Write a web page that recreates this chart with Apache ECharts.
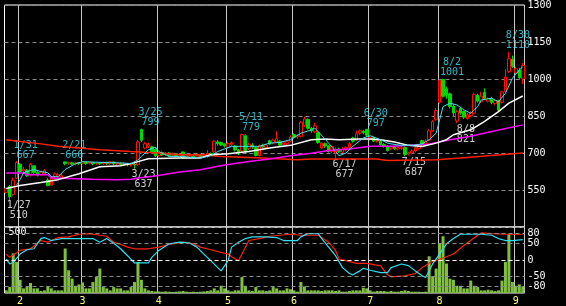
<!DOCTYPE html>
<html>
<head>
<meta charset="utf-8">
<script src="https://cdn.jsdelivr.net/npm/echarts@6/dist/echarts.min.js"></script>
<style>
html,body{margin:0;padding:0;background:#000;}
#main{width:566px;height:306px;}
</style>
</head>
<body>
<div id="main"></div>
<script>
// trading days, 2022-01-26 .. 2022-09-05
var monthDays = {
  1: [26,27,28,31],
  2: [1,2,3,4,7,8,9,10,14,15,16,17,18,21,22,24,25,28],
  3: [1,2,3,4,7,8,9,10,11,14,15,16,17,18,22,23,24,25,28,29,30,31],
  4: [1,4,5,6,7,8,11,12,13,14,15,18,19,20,21,22,25,26,27,28],
  5: [2,6,9,10,11,12,13,16,17,18,19,20,23,24,25,26,27,30,31],
  6: [1,2,3,6,7,8,9,10,13,14,15,16,17,20,21,22,23,24,27,28,29,30],
  7: [1,4,5,6,7,8,11,12,13,14,15,19,20,21,22,25,26,27,28,29],
  8: [1,2,3,4,5,8,9,10,12,15,16,17,18,19,22,23,24,25,26,29,30,31],
  9: [1,2,5]
};

var opens = [540,565,532,598,655,628,630,610,648,622,612,615,590,570,605,604,600,664,658,660,
  656,660,658,662,658,661,657,660,656,662,657,664,656,658,653,657,652,655,652,795,
  720,728,725,715,690,702,694,700,690,697,690,704,682,683,688,684,690,685,685,698,
  705,745,742,735,722,735,728,712,708,770,718,732,722,690,730,722,750,740,745,748,
  735,738,748,775,765,768,812,836,800,786,782,720,738,728,706,700,716,704,712,722,
  760,752,780,788,796,755,762,748,748,735,728,718,726,716,718,722,695,700,708,718,
  750,735,752,790,835,905,998,960,940,890,830,880,868,840,852,862,935,908,945,910,
  922,900,912,905,950,1030,1080,1025,1036,1000];
var closes = [556,522,590,662,625,634,608,655,620,610,622,630,568,602,615,612,608,656,662,655,
  660,657,663,657,662,656,660,656,662,658,664,656,660,653,658,652,656,652,745,752,
  738,735,705,688,700,692,700,690,697,688,696,680,690,689,683,690,684,692,698,692,
  748,738,732,728,738,742,712,700,775,705,735,724,690,730,725,732,736,752,758,732,
  742,746,765,764,770,825,838,800,790,810,742,740,728,706,726,716,706,716,722,738,
  748,778,790,782,772,764,748,752,733,728,710,724,718,722,722,694,700,708,722,728,
  734,748,790,828,872,995,930,935,888,862,868,862,845,856,862,938,910,930,922,920,
  905,912,874,948,1008,1082,1050,1042,1005,1055];
var lows = [535,510,528,595,618,620,603,605,615,605,608,610,565,566,598,598,594,650,652,650,
  650,652,654,652,654,650,651,652,652,652,652,650,648,648,648,646,645,637,648,745,
  715,720,700,684,685,688,688,684,684,682,684,676,678,678,678,680,680,682,680,688,
  700,730,728,722,718,728,706,692,704,700,712,716,686,686,718,716,732,736,740,728,
  728,732,744,758,758,764,806,795,782,780,738,714,720,702,700,677,700,700,706,716,
  742,748,772,776,766,750,744,742,728,722,706,712,712,710,712,687,690,695,702,714,
  728,730,748,786,830,900,925,920,880,850,821,855,838,835,846,858,905,902,915,905,
  898,896,868,900,945,1025,1045,1020,998,980];
var highs = [560,570,600,667,660,645,635,660,650,628,628,635,598,606,622,620,616,666,664,663,
  664,664,665,665,665,664,663,663,665,665,665,665,664,662,662,660,660,660,752,799,
  745,742,730,720,705,706,704,704,702,700,700,706,694,693,692,694,694,696,712,702,
  752,752,746,740,744,748,732,716,779,775,742,740,726,735,738,738,754,758,788,752,
  748,752,772,780,776,830,848,840,806,822,788,744,742,732,730,722,722,724,728,744,
  766,790,795,794,797,770,766,758,752,740,732,730,730,726,728,726,705,714,728,735,
  754,755,796,834,882,998,1001,968,945,898,875,888,872,862,868,945,940,948,962,925,
  928,918,916,952,1040,1110,1095,1050,1045,1065];
var volumes = [20,45,300,235,100,35,45,76,35,35,15,20,50,35,20,20,20,337,172,109,
  55,65,80,35,35,83,121,185,45,35,20,45,35,35,20,20,45,83,235,100,
  35,20,15,12,12,10,12,10,8,10,12,15,10,8,10,8,10,12,15,20,
  35,20,55,35,20,12,20,20,121,55,20,15,45,20,20,15,20,45,35,20,
  20,35,28,20,10,83,50,20,20,20,20,15,20,20,20,15,20,10,10,15,
  20,20,20,40,35,20,10,15,15,15,10,15,10,10,15,20,15,10,10,10,
  8,10,278,127,185,374,430,223,109,100,55,55,35,35,94,55,45,20,20,25,
  20,15,20,94,235,445,83,55,65,50];

// moving averages: [day index, price]
var maShort = [[3,570],[4,592],[5,620],[7,629],[8,633],[10,625],[12,620],[13,604],[15,604],[17,633],
  [20,657],[22,665],[27,662],[33,660],[36,657],[38,672],[39,686],[41,713],[43,724],[44,706],
  [47,686],[50,686],[56,680],[59,689],[61,706],[65,727],[69,727],[73,727],[76,740],[79,743],
  [82,754],[85,780],[88,794],[89,801],[90,787],[93,740],[95,706],[96,689],[98,700],[100,727],
  [103,761],[105,770],[108,754],[110,740],[111,737],[114,731],[117,731],[120,737],[122,754],[124,780],
  [125,834],[126,888],[128,902],[130,895],[132,875],[134,861],[136,888],[137,915],[140,922],[142,908],
  [144,942],[146,1003],[148,1036],[149,1050]];
var maMid = [[0,556],[4,568],[10,580],[15,592],[21,616],[27,644],[33,648],[36,657],[39,669],[41,677],
  [50,680],[56,680],[59,693],[64,697],[70,706],[76,720],[82,731],[88,754],[92,757],[96,754],
  [102,757],[105,757],[108,754],[112,745],[116,731],[120,726],[124,740],[127,754],[129,774],[134,794],
  [138,828],[142,868],[145,902],[149,931]];
var maLong = [[0,619],[5,619],[6,612],[12,612],[13,599],[20,596],[25,594],[32,592],[36,594],[38,599],
  [42,605],[50,623],[56,632],[61,646],[64,653],[70,666],[76,676],[82,689],[88,699],[93,710],
  [99,716],[105,727],[111,727],[121,734],[128,754],[134,768],[140,787],[149,814]];
var maLonger = [[0,754],[4,747],[10,737],[15,727],[21,720],[27,713],[36,706],[44,700],[50,693],[56,693],
  [62,686],[74,680],[84,673],[88,676],[107,676],[110,670],[124,673],[131,680],[139,689],[149,700]];

// lower panel oscillators: [day index, value]
var oscA = [[0,3],[1,-12],[2,-7],[4,18],[6,31],[8,34],[10,65],[11,68],[13,59],[16,65],
  [21,65],[25,65],[27,54],[29,65],[31,51],[33,34],[35,13],[37,-9],[41,-9],[42,8],
  [44,29],[47,49],[50,54],[53,51],[55,39],[57,18],[59,-2],[61,-23],[62,-33],[64,-2],
  [65,39],[67,54],[69,65],[71,70],[75,70],[78,68],[80,59],[82,59],[84,59],[85,70],
  [87,80],[90,80],[91,65],[93,39],[95,13],[97,-23],[99,-41],[100,-45],[102,-33],[103,-25],
  [105,-31],[108,-38],[110,-38],[111,-23],[114,-12],[116,-17],[118,-33],[120,-48],[121,-53],[123,-12],
  [125,18],[127,49],[129,65],[131,78],[135,78],[137,78],[140,75],[142,65],[144,59],[146,59],[149,62]];
var oscB = [[0,18],[1,8],[4,29],[7,34],[10,59],[12,54],[15,68],[18,70],[21,78],[24,80],
  [27,75],[29,72],[31,54],[33,47],[35,39],[37,34],[41,34],[44,39],[47,47],[51,54],
  [54,49],[56,39],[59,31],[64,18],[65,10],[67,-2],[70,59],[73,65],[76,72],[79,75],
  [82,78],[85,75],[90,75],[93,54],[95,29],[96,3],[98,-2],[101,-10],[104,-10],[108,-18],
  [110,-45],[111,-51],[115,-48],[118,-41],[120,-23],[123,-4],[126,6],[129,18],[132,44],[136,75],
  [137,82],[140,80],[144,78],[149,78]];

var hiIdx = [3,17,39,68,104,126,145];
var hiVal = [667,666,799,779,797,1001,1110];
var loIdx = [1,37,95,115,130];
var loVal = [510,637,677,687,821];

var oscTicks = [80,50,0,-50,-80];
var volTicks = [500];

var dates = [], monthStart = [];
for (var m = 1; m <= 9; m++) {
  monthDays[m].forEach(function(d, k){
    dates.push(m + '/' + d);
    monthStart.push(k === 0 && m > 1);
  });
}
var candles = opens.map(function(o, i){ return [o, closes[i], lows[i], highs[i]]; });
var hiPts = hiIdx.map(function(d, k){ return [d, hiVal[k]]; });
var loPts = loIdx.map(function(d, k){ return [d, loVal[k]]; });

var font = 'DejaVu Sans Mono';
var dash = [4, 3];
var plain = function(v){ return String(v); };
var chart = echarts.init(document.getElementById('main'));

function xAx(gi, labels){
  return {
    type: 'category', gridIndex: gi, data: dates, boundaryGap: true,
    axisLine: {show: false}, axisTick: {show: false},
    splitLine: {show: true, interval: function(i){ return monthStart[i]; },
      lineStyle: {color: '#c8c8c8', width: 1}},
    axisLabel: {show: labels, interval: function(i){ return monthStart[i]; },
      formatter: function(v){ return v.split('/')[0]; },
      color: '#ffff80', fontFamily: font, fontSize: 10, margin: 3}
  };
}

var option = {
  backgroundColor: '#000',
  animation: false,
  grid: [
    {left: 4.5, top: 3.5, width: 520, height: 223.5, show: true, borderColor: '#fff', borderWidth: 1},
    {left: 4.5, top: 227, width: 520, height: 66, show: true, borderColor: '#fff', borderWidth: 1}
  ],
  xAxis: [xAx(0, false), xAx(1, true)],
  yAxis: [
    {type: 'value', gridIndex: 0, position: 'right', min: 400, max: 1300, interval: 150,
      axisLine: {show: false}, axisTick: {show: false},
      splitLine: {lineStyle: {color: '#8a8a8a', type: dash}},
      axisLabel: {showMinLabel: false, formatter: plain, color: '#fff', fontFamily: font, fontSize: 10, margin: 3}},
    {type: 'value', gridIndex: 1, position: 'right', min: -100, max: 100,
      axisLine: {show: false}, axisTick: {show: false}, splitLine: {show: false},
      axisLabel: {customValues: oscTicks, formatter: plain, color: '#fff', fontFamily: font, fontSize: 10, margin: 3}},
    {type: 'value', gridIndex: 1, position: 'left', min: 0, max: 500,
      axisLine: {show: false}, axisTick: {show: false}, splitLine: {show: false},
      axisLabel: {customValues: volTicks, formatter: plain, inside: true, verticalAlign: 'top', color: '#fff',
        fontFamily: font, fontSize: 10, margin: 4}}
  ],
  series: [
    {type: 'bar', xAxisIndex: 1, yAxisIndex: 2, data: volumes, barWidth: 3,
      itemStyle: {color: '#80c040'}},
    {type: 'line', xAxisIndex: 1, yAxisIndex: 1, data: oscB, showSymbol: false,
      lineStyle: {color: '#ff2010', width: 1.2},
      markLine: {silent: true, symbol: 'none', label: {show: false},
        data: oscTicks.map(function(v){
          return {yAxis: v, lineStyle: {color: v === 0 ? '#ffffff' : '#8a8a8a', type: dash, width: 1}};
        })}},
    {type: 'line', xAxisIndex: 1, yAxisIndex: 1, data: oscA, showSymbol: false,
      lineStyle: {color: '#30e0f0', width: 1.2}},
    {type: 'candlestick', xAxisIndex: 0, yAxisIndex: 0, data: candles, barWidth: 3,
      itemStyle: {color: '#000', color0: '#00d800', borderColor: '#ff1000', borderColor0: '#00d800', borderWidth: 1}},
    {type: 'line', xAxisIndex: 0, yAxisIndex: 0, data: maLonger, showSymbol: false,
      lineStyle: {color: '#ff2000', width: 1.5}},
    {type: 'line', xAxisIndex: 0, yAxisIndex: 0, data: maLong, showSymbol: false,
      lineStyle: {color: '#ff00ff', width: 1.5}},
    {type: 'line', xAxisIndex: 0, yAxisIndex: 0, data: maMid, showSymbol: false,
      lineStyle: {color: '#ffffff', width: 1.5}},
    {type: 'line', xAxisIndex: 0, yAxisIndex: 0, data: maShort, showSymbol: false,
      lineStyle: {color: '#40e0f0', width: 1}},
    {type: 'scatter', xAxisIndex: 0, yAxisIndex: 0, data: hiPts, symbolSize: 0,
      label: {show: true, position: 'top', distance: 1, offset: [9, 0], align: 'center',
        color: '#40e0f0', fontFamily: font, fontSize: 10, lineHeight: 10,
        formatter: function(p){ return dates[p.data[0]] + '\n' + p.data[1]; }}},
    {type: 'scatter', xAxisIndex: 0, yAxisIndex: 0, data: loPts, symbolSize: 0,
      label: {show: true, position: 'bottom', distance: 1, offset: [9, 0], align: 'center',
        color: '#fff', fontFamily: font, fontSize: 10, lineHeight: 10,
        formatter: function(p){ return dates[p.data[0]] + '\n' + p.data[1]; }}}
  ]
};
chart.setOption(option);
</script>
</body>
</html>
